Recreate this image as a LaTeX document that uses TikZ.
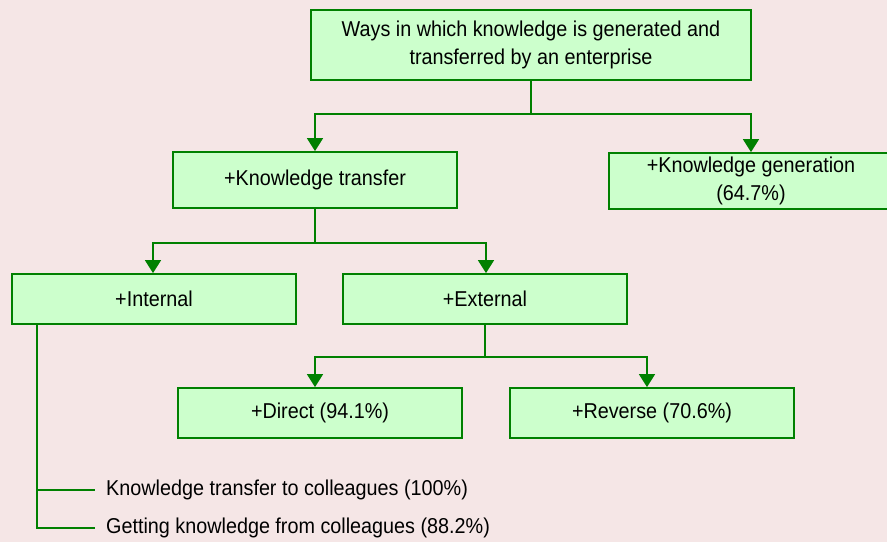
\documentclass[tikz,border=0pt]{standalone}
\usepackage{fontspec}
\setmainfont[FakeStretch=0.92]{Liberation Sans}
\usetikzlibrary{arrows.meta,calc}
\definecolor{bgpink}{HTML}{F5E6E6}
\definecolor{boxfill}{HTML}{CCFFCC}
\definecolor{boxline}{HTML}{008000}
\tikzset{
  box/.style={draw=boxline, fill=boxfill, line width=1.8pt, rectangle,
    minimum width=284pt, minimum height=50pt, inner sep=0pt, align=center,
    font=\fontsize{21.5}{28}\selectfont},
  link/.style={draw=boxline, line width=1.7pt},
  arr/.style={link, -{Triangle[width=16pt,length=13pt]}},
  leaf/.style={anchor=west, inner xsep=11pt, inner ysep=0pt,
    font=\fontsize{21.5}{28}\selectfont}
}
\begin{document}
\begin{tikzpicture}[x=1pt,y=-1pt]
  \fill[bgpink] (0,0) rectangle (887,542);
  \useasboundingbox (0,0) rectangle (887,542);
  \begin{scope}
  \clip (0,0) rectangle (887,542);

  % boxes
  \node[box, minimum width=440pt, minimum height=70pt] (top) at (531,45)
    {Ways in which knowledge is generated and\\transferred by an enterprise};
  \node[box, minimum height=56pt] (kt) at (315,180) {+Knowledge transfer};
  \node[box, minimum height=56pt] (kg) at (751,181) {+Knowledge generation\\(64.7\%)};
  \node[box] (int) at (154,299) {+Internal};
  \node[box] (ext) at (485,299) {+External};
  \node[box] (dir) at (320,413) {+Direct (94.1\%)};
  \node[box] (rev) at (652,413) {+Reverse (70.6\%)};

  % internal items
  \node[leaf] (l1) at (95,490) {Knowledge transfer to colleagues (100\%)};
  \node[leaf] (l2) at (95,528) {Getting knowledge from colleagues (88.2\%)};

  % top level fork
  \draw[link] (top.south) -- ++(0,33) coordinate (j1);
  \draw[arr] (j1) -| (kt.north);
  \draw[arr] (j1) -| (kg.north);

  % knowledge transfer fork
  \draw[link] (kt.south) -- ++(0,34) coordinate (j2);
  \draw[arr] (j2) -| ([xshift=-1pt]int.north);
  \draw[arr] (j2) -| ([xshift=1pt]ext.north);

  % external fork
  \draw[link] (ext.south) -- ++(0,32) coordinate (j3);
  \draw[arr] (j3) -| ([xshift=-5pt]dir.north);
  \draw[arr] (j3) -| ([xshift=-5pt]rev.north);

  % internal list
  \coordinate (i0) at ([xshift=26pt]int.south west);
  \draw[link] (i0) |- (l2.west);
  \draw[link] (i0 |- l1.west) -- (l1.west);
  \end{scope}
\end{tikzpicture}
\end{document}
